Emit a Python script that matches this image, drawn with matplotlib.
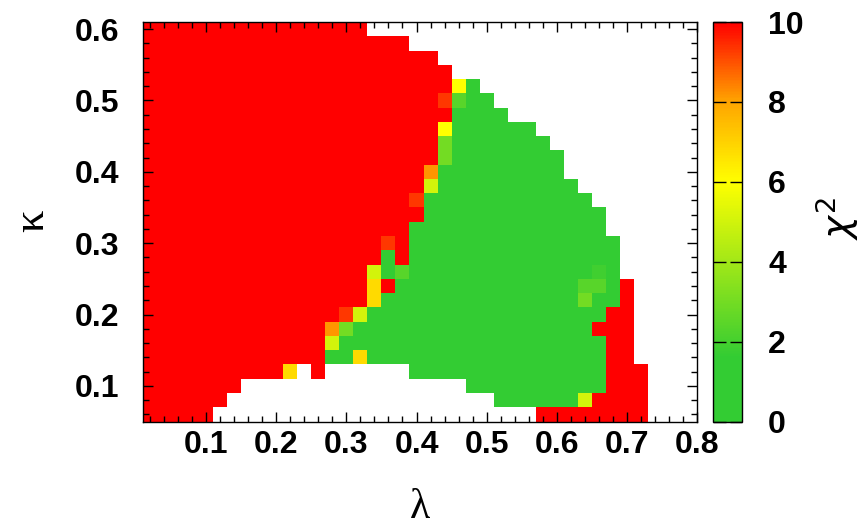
import numpy as np
import matplotlib
matplotlib.use("Agg")
import matplotlib.pyplot as plt
from matplotlib.colors import LinearSegmentedColormap, Normalize
from matplotlib.ticker import MultipleLocator, FormatStrFormatter

plt.rcParams['font.family'] = ['Liberation Sans', 'DejaVu Sans']
plt.rcParams['font.weight'] = 'normal'

# grid centres (cell width 0.02 in both directions)
lam = np.round(np.arange(1, 40) * 0.02, 2)      # lambda = 0.02 ... 0.78
kap = np.round(np.arange(30, 2, -1) * 0.02, 2)   # kappa = 0.60 ... 0.06 (top -> bottom)

# chi^2 levels (colour codes)
code_value = {"R": 10.0, "r": 9.3, "O": 8.2, "D": 6.8, "Y": 6.0, "y": 5.0,
              "L": 3.0, "l": 2.4, "g": 1.9, "G": 0.5, ".": np.nan}

# each row: run-length list of (code, number of cells), lambda increasing
rows_rle = [
    [("R", 16), (".", 23)],                                                   # 0.60
    [("R", 19), (".", 20)],                                                   # 0.58
    [("R", 21), (".", 18)],                                                   # 0.56
    [("R", 22), (".", 17)],                                                   # 0.54
    [("R", 22), ("Y", 1), ("G", 1), (".", 15)],                               # 0.52
    [("R", 21), ("r", 1), ("l", 1), ("G", 2), (".", 14)],                     # 0.50
    [("R", 22), ("G", 4), (".", 13)],                                         # 0.48
    [("R", 21), ("Y", 1), ("G", 6), (".", 11)],                               # 0.46
    [("R", 21), ("L", 1), ("G", 7), (".", 10)],                               # 0.44
    [("R", 21), ("L", 1), ("G", 8), (".", 9)],                                # 0.42
    [("R", 20), ("O", 1), ("G", 9), (".", 9)],                                # 0.40
    [("R", 20), ("y", 1), ("G", 10), (".", 8)],                               # 0.38
    [("R", 19), ("r", 1), ("G", 12), (".", 7)],                               # 0.36
    [("R", 20), ("G", 13), (".", 6)],                                         # 0.34
    [("R", 19), ("G", 14), (".", 6)],                                         # 0.32
    [("R", 17), ("r", 1), ("R", 1), ("G", 15), (".", 5)],                     # 0.30
    [("R", 17), ("G", 1), ("R", 1), ("G", 15), (".", 5)],                     # 0.28
    [("R", 16), ("y", 1), ("G", 1), ("l", 1), ("G", 13), ("g", 1), ("G", 1), (".", 5)],  # 0.26
    [("R", 16), ("D", 1), ("R", 1), ("G", 13), ("l", 2), ("G", 1), ("R", 1), (".", 4)],  # 0.24
    [("R", 16), ("D", 1), ("G", 14), ("L", 1), ("G", 2), ("R", 1), (".", 4)],  # 0.22
    [("R", 14), ("r", 1), ("y", 1), ("G", 17), ("R", 2), (".", 4)],           # 0.20
    [("R", 13), ("O", 1), ("L", 1), ("G", 17), ("R", 3), (".", 4)],           # 0.18
    [("R", 13), ("y", 1), ("G", 19), ("R", 2), (".", 4)],                     # 0.16
    [("R", 13), ("G", 2), ("D", 1), ("G", 17), ("R", 2), (".", 4)],           # 0.14
    [("R", 10), ("D", 1), (".", 1), ("R", 1), (".", 6), ("G", 14), ("R", 3), (".", 3)],  # 0.12
    [("R", 7), (".", 16), ("G", 10), ("R", 3), (".", 3)],                     # 0.10
    [("R", 6), (".", 19), ("G", 6), ("y", 1), ("R", 4), (".", 3)],            # 0.08
    [("R", 5), (".", 23), ("R", 8), (".", 3)],                                # 0.06
]

cbar_ticks = [0, 2, 4, 6, 8, 10]
x_ticks_major, x_ticks_minor = 0.1, 0.02
y_ticks_major, y_ticks_minor = 0.1, 0.02

grid = []
for row in rows_rle:
    vals = [code_value[c] for c, n in row for _ in range(n)]
    assert len(vals) == len(lam), (len(vals), row)
    grid.append(vals)
grid = np.array(grid, dtype=float)

cmap = LinearSegmentedColormap.from_list(
    "chi", [(0.0, "#33cc33"), (0.16, "#33cc33"), (0.6, "#ffff00"),
            (0.8, "#ffa500"), (1.0, "#ff0000")])
norm = Normalize(vmin=0, vmax=10)

fig = plt.figure(figsize=(8.59, 5.32), dpi=100)
ax = fig.add_axes([0.1665, 0.2077, 0.6449, 0.7509])

Z = np.ma.masked_invalid(grid[::-1])
mesh = ax.pcolormesh(lam, kap[::-1], Z, cmap=cmap, norm=norm, shading='nearest')

ax.set_xlim(0.01, 0.8)
ax.set_ylim(0.05, 0.61)
ax.xaxis.set_major_locator(MultipleLocator(x_ticks_major))
ax.xaxis.set_minor_locator(MultipleLocator(x_ticks_minor))
ax.yaxis.set_major_locator(MultipleLocator(y_ticks_major))
ax.yaxis.set_minor_locator(MultipleLocator(y_ticks_minor))
ax.xaxis.set_major_formatter(FormatStrFormatter('%.1f'))
ax.yaxis.set_major_formatter(FormatStrFormatter('%.1f'))
ax.tick_params(which='both', direction='in', top=True, right=True, width=1, colors='black')
ax.tick_params(which='major', length=7, labelsize=23)
ax.tick_params(which='minor', length=4)
ax.tick_params(axis='x', which='major', pad=6)
ax.tick_params(axis='y', which='major', pad=17)
for s in ax.spines.values():
    s.set_linewidth(1)

cax = fig.add_axes([0.8297, 0.2077, 0.0338, 0.7509])
cb = fig.colorbar(mesh, cax=cax, ticks=cbar_ticks)
cb.outline.set_linewidth(1)
cax.yaxis.set_ticks_position('both')
cax.tick_params(which='major', direction='in', length=9, width=1, left=True, right=True,
                labelleft=False, labelright=True, labelsize=23, pad=19)
cax.minorticks_off()

fig.canvas.draw()
for t in ax.get_xticklabels() + ax.get_yticklabels() + cax.get_yticklabels():
    t.set_fontweight('bold')

fig.text(0.489, 0.046, 'λ', ha='center', va='center', fontsize=30,
         family=['Liberation Serif', 'DejaVu Serif'])
fig.text(0.037, 0.585, 'κ', ha='center', va='center', fontsize=32, rotation=90,
         family=['Liberation Serif', 'DejaVu Serif'])
fig.text(0.974, 0.59, r'$\chi^{2}$', ha='center', va='center', fontsize=28, rotation=90)

fig.savefig('out.png', dpi=100)
